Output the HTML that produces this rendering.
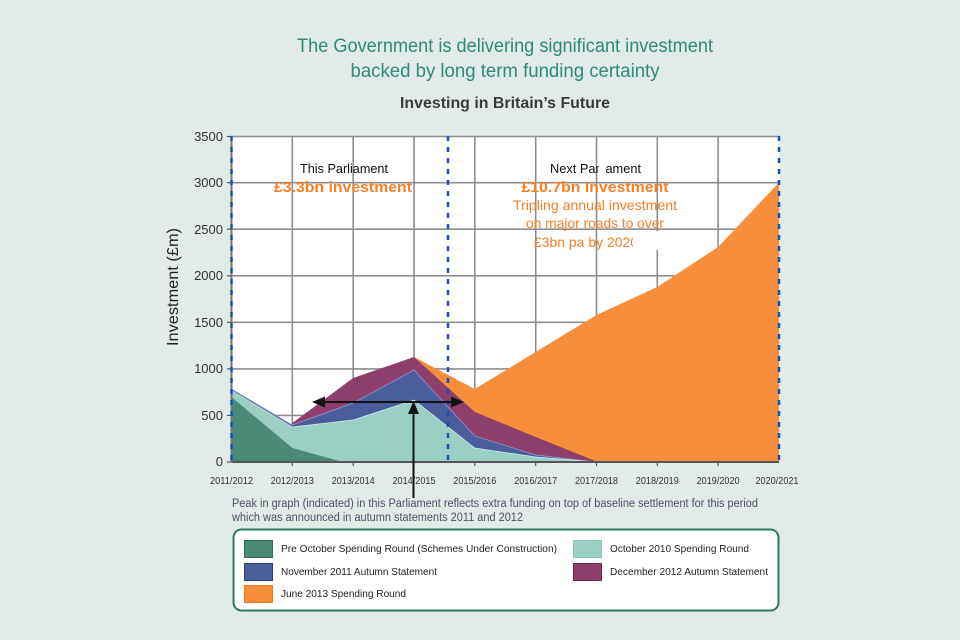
<!DOCTYPE html>
<html>
<head>
<meta charset="utf-8">
<style>
html,body{margin:0;padding:0;background:#e3ebe9;}
svg{display:block;font-family:"Liberation Sans",Arial,sans-serif;}
</style>
</head>
<body>
<svg width="960" height="640" viewBox="0 0 960 640" xmlns="http://www.w3.org/2000/svg">
  <rect x="0" y="0" width="960" height="640" fill="#e3ebe9"/>

  <!-- Titles -->
  <text x="505" y="52" text-anchor="middle" font-size="19" fill="#2e8b7a" textLength="416" lengthAdjust="spacingAndGlyphs">The Government is delivering significant investment</text>
  <text x="505" y="77" text-anchor="middle" font-size="19" fill="#2e8b7a" textLength="309" lengthAdjust="spacingAndGlyphs">backed by long term funding certainty</text>
  <text x="505" y="108" text-anchor="middle" font-size="16" font-weight="bold" fill="#3a3a3a" textLength="210" lengthAdjust="spacingAndGlyphs">Investing in Britain’s Future</text>

  <!-- Plot background -->
  <rect x="231.5" y="136" width="547.5" height="326" fill="#ffffff"/>

  <!-- Gridlines -->
  <g stroke="#8e8e8e" stroke-width="1.6">
    <line x1="231.5" y1="136.5" x2="779" y2="136.5"/>
    <line x1="231.5" y1="182.7" x2="779" y2="182.7"/>
    <line x1="231.5" y1="229.2" x2="779" y2="229.2"/>
    <line x1="231.5" y1="275.8" x2="779" y2="275.8"/>
    <line x1="231.5" y1="322.3" x2="779" y2="322.3"/>
    <line x1="231.5" y1="368.9" x2="779" y2="368.9"/>
    <line x1="231.5" y1="415.4" x2="779" y2="415.4"/>
    <line x1="292.3" y1="136" x2="292.3" y2="462"/>
    <line x1="353.2" y1="136" x2="353.2" y2="462"/>
    <line x1="414" y1="136" x2="414" y2="462"/>
    <line x1="474.8" y1="136" x2="474.8" y2="462"/>
    <line x1="535.7" y1="136" x2="535.7" y2="462"/>
    <line x1="596.5" y1="136" x2="596.5" y2="462"/>
    <line x1="657.3" y1="136" x2="657.3" y2="462"/>
    <line x1="718.1" y1="136" x2="718.1" y2="462"/>
  </g>

  <!-- Stacked areas -->
  <path d="M414,357 L474.8,389 L535.7,352 L596.5,315 L657.3,287 L718.1,247 L779,182.5 L779,462 L414,462 Z" fill="#f68e3b"/>
  <path d="M292.3,423 L353.2,378 L414,357 L474.8,412 L535.7,437 L596.5,461.5 L596.5,462 L292.3,462 Z" fill="#8d3e6a"/>
  <path d="M231.5,389 L292.3,425 L353.2,403 L414,370 L474.8,436 L535.7,455 L596.5,462 L231.5,462 Z" fill="#4b5c9a"/>
  <path d="M231.5,390.5 L292.3,427 L353.2,420 L414,400 L474.8,448 L535.7,457 L596.5,462 L231.5,462 Z" fill="#9ccfc4"/>
  <path d="M231.5,397 L292.3,448 L343,462 L231.5,462 Z" fill="#4a8b77"/>
  <polyline points="231.5,389 292.3,425 353.2,403 414,370 474.8,436 535.7,455 596.5,462" fill="none" stroke="#8fa3cf" stroke-width="0.7"/>
  <polyline points="231.5,390.5 292.3,427 353.2,420 414,400 474.8,448 535.7,457 596.5,462" fill="none" stroke="#d5ecea" stroke-width="0.7"/>

  <!-- Annotations -->
  <text x="344" y="173" text-anchor="middle" font-size="13" fill="#111" textLength="88" lengthAdjust="spacingAndGlyphs">This Parliament</text>
  <text x="343" y="192" text-anchor="middle" font-size="15" font-weight="bold" fill="#f47f24" textLength="138" lengthAdjust="spacingAndGlyphs">£3.3bn investment</text>
  <text x="550" y="173" font-size="13" fill="#111" textLength="91" lengthAdjust="spacingAndGlyphs">Next Parliament</text>
  <rect x="599" y="160" width="6" height="16" fill="#ffffff"/>
  <text x="595" y="192" text-anchor="middle" font-size="15" font-weight="bold" fill="#f47f24" textLength="147" lengthAdjust="spacingAndGlyphs">£10.7bn Investment</text>
  <text x="595" y="210" text-anchor="middle" font-size="14" fill="#f47f24" textLength="164" lengthAdjust="spacingAndGlyphs">Tripling annual investment</text>
  <text x="595" y="228" text-anchor="middle" font-size="14" fill="#f47f24" textLength="138" lengthAdjust="spacingAndGlyphs">on major roads to over</text>
  <text x="534" y="247" font-size="14" fill="#f47f24" textLength="104" lengthAdjust="spacingAndGlyphs">£3bn pa by 2020</text>
  <rect x="633" y="231" width="25.5" height="19" fill="#ffffff"/>

  <!-- Axes -->
  <line x1="231.5" y1="462" x2="779" y2="462" stroke="#555" stroke-width="2"/>
  <line x1="231.5" y1="136" x2="231.5" y2="462" stroke="#777" stroke-width="2"/>
  <g stroke="#555" stroke-width="1.2">
    <line x1="227" y1="136.5" x2="231.5" y2="136.5"/>
    <line x1="227" y1="182.7" x2="231.5" y2="182.7"/>
    <line x1="227" y1="229.2" x2="231.5" y2="229.2"/>
    <line x1="227" y1="275.8" x2="231.5" y2="275.8"/>
    <line x1="227" y1="322.3" x2="231.5" y2="322.3"/>
    <line x1="227" y1="368.9" x2="231.5" y2="368.9"/>
    <line x1="227" y1="415.4" x2="231.5" y2="415.4"/>
    <line x1="227" y1="462" x2="231.5" y2="462"/>
    <line x1="292.3" y1="462" x2="292.3" y2="466"/>
    <line x1="353.2" y1="462" x2="353.2" y2="466"/>
    <line x1="414" y1="462" x2="414" y2="466"/>
    <line x1="474.8" y1="462" x2="474.8" y2="466"/>
    <line x1="535.7" y1="462" x2="535.7" y2="466"/>
    <line x1="596.5" y1="462" x2="596.5" y2="466"/>
    <line x1="657.3" y1="462" x2="657.3" y2="466"/>
    <line x1="718.1" y1="462" x2="718.1" y2="466"/>
  </g>

  <!-- Dashed blue lines -->
  <g stroke="#1a4fb8" stroke-width="2.5" stroke-dasharray="5 6">
    <line x1="231.5" y1="136" x2="231.5" y2="464"/>
    <line x1="448" y1="136" x2="448" y2="464"/>
    <line x1="779" y1="136" x2="779" y2="464"/>
  </g>

  <!-- Y tick labels -->
  <g font-size="13" fill="#333" text-anchor="end">
    <text x="223" y="141">3500</text>
    <text x="223" y="187">3000</text>
    <text x="223" y="234">2500</text>
    <text x="223" y="280">2000</text>
    <text x="223" y="327">1500</text>
    <text x="223" y="373">1000</text>
    <text x="223" y="420">500</text>
    <text x="223" y="466">0</text>
  </g>

  <!-- Y axis title -->
  <text transform="translate(178,287) rotate(-90)" text-anchor="middle" font-size="16" fill="#222" textLength="118" lengthAdjust="spacingAndGlyphs">Investment (£m)</text>

  <!-- X tick labels -->
  <g font-size="10" fill="#333" text-anchor="middle">
    <text x="231.5" y="484" textLength="43" lengthAdjust="spacingAndGlyphs">2011/2012</text>
    <text x="292.3" y="484" textLength="43" lengthAdjust="spacingAndGlyphs">2012/2013</text>
    <text x="353.2" y="484" textLength="43" lengthAdjust="spacingAndGlyphs">2013/2014</text>
    <text x="414" y="484" textLength="43" lengthAdjust="spacingAndGlyphs">2014/2015</text>
    <text x="474.8" y="484" textLength="43" lengthAdjust="spacingAndGlyphs">2015/2016</text>
    <text x="535.7" y="484" textLength="43" lengthAdjust="spacingAndGlyphs">2016/2017</text>
    <text x="596.5" y="484" textLength="43" lengthAdjust="spacingAndGlyphs">2017/2018</text>
    <text x="657.3" y="484" textLength="43" lengthAdjust="spacingAndGlyphs">2018/2019</text>
    <text x="718.1" y="484" textLength="43" lengthAdjust="spacingAndGlyphs">2019/2020</text>
    <text x="777" y="484" textLength="43" lengthAdjust="spacingAndGlyphs">2020/2021</text>
  </g>

  <!-- Arrows -->
  <g fill="#111" stroke="none">
    <rect x="322" y="401" width="132" height="2"/>
    <polygon points="312,402 325,396.5 325,407.5"/>
    <polygon points="464,402 451,396.5 451,407.5"/>
    <rect x="412.5" y="410" width="2" height="88"/>
    <polygon points="413.5,401 408,414 419,414"/>
  </g>

  <!-- Footnote -->
  <text x="232" y="507" font-size="11.5" fill="#4f4f66" textLength="526" lengthAdjust="spacingAndGlyphs">Peak in graph (indicated) in this Parliament reflects extra funding on top of baseline settlement for this period</text>
  <text x="232" y="521" font-size="11.5" fill="#4f4f66" textLength="291" lengthAdjust="spacingAndGlyphs">which was announced in autumn statements 2011 and 2012</text>

  <!-- Legend -->
  <rect x="233.5" y="529.5" width="545" height="81" rx="8" ry="8" fill="#ffffff" stroke="#2f7a5c" stroke-width="2"/>
  <rect x="244.5" y="540.5" width="28" height="17" fill="#4a8b77" stroke="#2d6b5a" stroke-width="1"/>
  <rect x="244.5" y="563.5" width="28" height="17" fill="#4b5c9a" stroke="#2c3f80" stroke-width="1"/>
  <rect x="244.5" y="585.5" width="28" height="17" fill="#f68e3b" stroke="#e77a25" stroke-width="1"/>
  <rect x="573.5" y="540.5" width="28" height="17" fill="#9ccfc4" stroke="#8cc3b8" stroke-width="1"/>
  <rect x="573.5" y="563.5" width="28" height="17" fill="#8d3e6a" stroke="#6f2a52" stroke-width="1"/>
  <g font-size="10" fill="#222">
    <text x="281" y="552" textLength="276" lengthAdjust="spacingAndGlyphs">Pre October Spending Round (Schemes Under Construction)</text>
    <text x="281" y="575" textLength="156" lengthAdjust="spacingAndGlyphs">November 2011 Autumn Statement</text>
    <text x="281" y="597" textLength="125" lengthAdjust="spacingAndGlyphs">June 2013 Spending Round</text>
    <text x="610" y="552" textLength="139" lengthAdjust="spacingAndGlyphs">October 2010 Spending Round</text>
    <text x="610" y="575" textLength="158" lengthAdjust="spacingAndGlyphs">December 2012 Autumn Statement</text>
  </g>
</svg>
</body>
</html>
